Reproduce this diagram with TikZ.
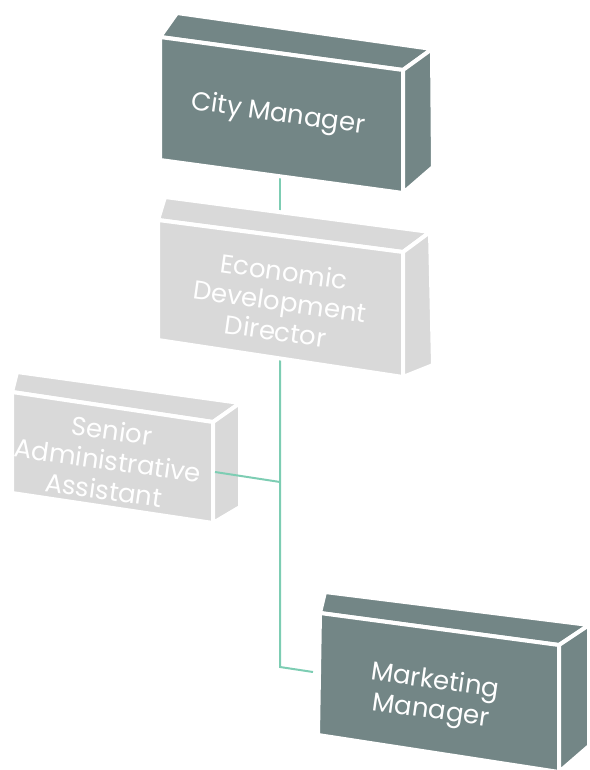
\documentclass[tikz,border=0pt]{standalone}
\usepackage{fontspec}
\setmainfont{Poppins}
\usetikzlibrary{backgrounds}
\definecolor{boxdark}{HTML}{738686}
\definecolor{boxlight}{HTML}{D9D9D9}
\definecolor{linkteal}{HTML}{7DCDB3}
\tikzset{
  darkface/.style={fill=boxdark, draw=white, line width=4pt, line join=round},
  lightface/.style={fill=boxlight, draw=white, line width=4pt, line join=round},
  boxtext/.style={text=white, align=center, rotate=-8, inner sep=0pt, font=\fontsize{26}{30}\selectfont},
  link/.style={draw=linkteal, line width=2pt}
}
\begin{document}
\begin{tikzpicture}[x=1pt,y=-1pt]
\useasboundingbox (0,0) rectangle (589,770);

%Shape: Box [City Manager]
\draw[darkface] (160,37) -- (177,13) -- (432,49) -- (403,70) -- cycle ;
\draw[darkface] (160,37) -- (403,70) -- (403,193) -- (160,160) -- cycle ;
\draw[darkface] (403,70) -- (432,49) -- (433,167) -- (403,193) -- cycle ;
%Shape: Box [Economic Development Director]
\draw[lightface] (158,220) -- (165,197) -- (430,232) -- (403,252) -- cycle ;
\draw[lightface] (158,220) -- (403,252) -- (403,377) -- (158,340) -- cycle ;
\draw[lightface] (403,252) -- (430,232) -- (433,365) -- (403,377) -- cycle ;
%Shape: Box [Senior Administrative Assistant]
\draw[lightface] (12,392) -- (17,372) -- (240,403) -- (213,422) -- cycle ;
\draw[lightface] (12,392) -- (213,422) -- (213,523) -- (12,493) -- cycle ;
\draw[lightface] (213,422) -- (240,403) -- (240,507) -- (213,523) -- cycle ;
%Shape: Box [Marketing Manager]
\draw[darkface] (320,613) -- (325,592) -- (589,625) -- (559,645) -- cycle ;
\draw[darkface] (320,613) -- (559,645) -- (559,772) -- (318,735) -- cycle ;
\draw[darkface] (559,645) -- (589,625) -- (589,746) -- (559,772) -- cycle ;

% Text Node
\node[boxtext] (cm) at (278,115) {City Manager};
% Text Node
\node[boxtext] (edd) at (280,301) {Economic\\Development\\Director};
% Text Node
\node[boxtext] (saa) at (108,460) {Senior\\Administrative\\Assistant};
% Text Node
\node[boxtext] (mm) at (433,697) {Marketing\\Manager};

\coordinate (tee) at (280,482);
\coordinate (elbow) at (280,667);
\coordinate (saaedge) at (215,472);
\coordinate (mmedge) at (313,672);

\begin{scope}[on background layer]
\draw[link] (edd.center) -- (edd.center |- cm.center);
\draw[link] (edd.center) -- (elbow) -- (mmedge);
\end{scope}
\draw[link] (saaedge) -- (tee);

\end{tikzpicture}
\end{document}
